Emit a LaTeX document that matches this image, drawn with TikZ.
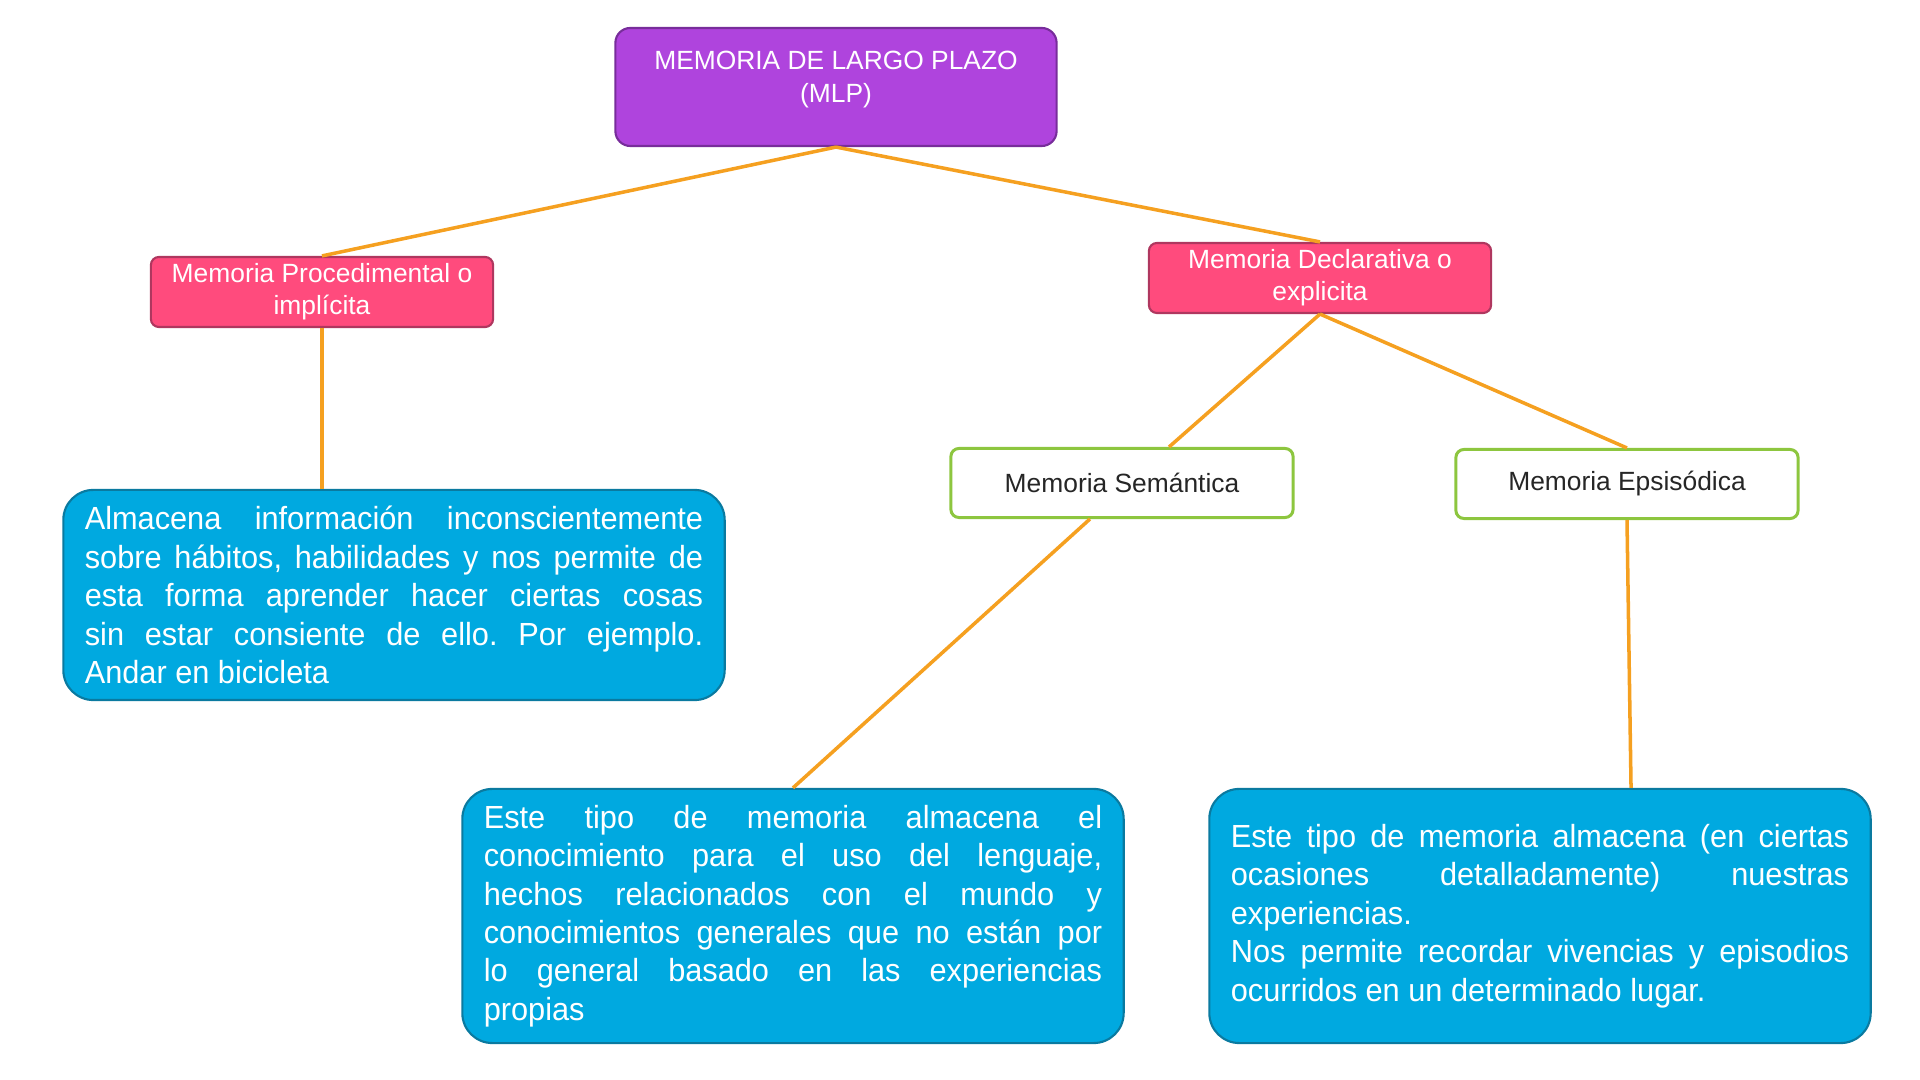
\documentclass[tikz,border=0pt]{standalone}
\usepackage{fontspec}
\setmainfont{Liberation Sans}
\newfontfamily\infofont[FakeStretch=0.96]{Liberation Sans}
\definecolor{mlpfill}{RGB}{175,68,221}
\definecolor{mlpedge}{RGB}{120,45,155}
\definecolor{redfill}{RGB}{255,75,125}
\definecolor{rededge}{RGB}{175,55,95}
\definecolor{greenedge}{RGB}{141,198,63}
\definecolor{bluefill}{RGB}{0,169,224}
\definecolor{blueedge}{RGB}{10,122,160}
\definecolor{linkcol}{RGB}{245,160,32}
\hyphenpenalty=10000
\exhyphenpenalty=10000
\tolerance=9999
\frenchspacing
\begin{document}
\begin{tikzpicture}[x=0.01cm,y=-0.01cm,font=\fontsize{7.5}{9.2}\selectfont]
    \tikzset{
      head/.style={draw=mlpedge, fill=mlpfill, line width=0.6pt, rounded corners=0.15cm, minimum width=4.41cm, minimum height=1.18cm, align=center, text=white},
      kind/.style={draw=rededge, fill=redfill, line width=0.6pt, rounded corners=0.08cm, minimum width=3.42cm, minimum height=0.70cm, inner sep=0pt, align=center, text=white},
      sub/.style={draw=greenedge, fill=white, line width=0.85pt, rounded corners=0.08cm, minimum width=3.42cm, minimum height=0.69cm, align=center, text=black!85},
      info/.style={draw=blueedge, fill=bluefill, line width=0.6pt, rounded corners=0.3cm, minimum width=6.61cm, text width=6.18cm, inner xsep=0.21cm, align=justify, text=white, font=\infofont\fontsize{9.1}{10.93}\selectfont},
      link/.style={draw=linkcol, line width=1pt}
    }
    \useasboundingbox (0,0) rectangle (1920,1080);
    \node[head] (mlp) at (836,87) {MEMORIA DE LARGO PLAZO\\(MLP)\\[-0.12cm]};
    \node[kind] (proc) at (322,292) {Memoria Procedimental o\\implícita};
    \node[kind] (decl) at (1320,278) {Memoria Declarativa o\\explicita};
    \node[sub] (sem) at (1122,483) {Memoria Semántica};
    \node[sub] (epi) at (1627,484) {Memoria Epsisódica};
    \node[info, minimum height=2.10cm] (txtproc) at (394,595) {Almacena información inconscientemente\linebreak sobre hábitos, habilidades y nos permite de\linebreak esta forma aprender hacer ciertas cosas\linebreak sin estar consiente de ello. Por ejemplo.\linebreak Andar en bicicleta};
    \node[info, minimum height=2.54cm] (txtsem) at (793,916) {Este tipo de memoria almacena el\linebreak conocimiento para el uso del lenguaje,\linebreak hechos relacionados con el mundo y\linebreak conocimientos generales que no están por\linebreak lo general basado en las experiencias\linebreak propias};
    \node[info, minimum height=2.54cm] (txtepi) at (1540,916) {Este tipo de memoria almacena (en ciertas\linebreak ocasiones detalladamente) nuestras\linebreak experiencias.\\Nos permite recordar vivencias y episodios\linebreak ocurridos en un determinado lugar.};
    \draw[link] (mlp.south) -- (proc.north);
    \draw[link] (mlp.south) -- (decl.north);
    \draw[link] (proc.south) -- (proc.south |- txtproc.north);
    \draw[link] (decl.south) -- ([xshift=0.47cm]sem.north);
    \draw[link] (decl.south) -- (epi.north);
    \draw[link] ([xshift=-0.32cm]sem.south) -- (txtsem.north);
    \draw[link] (epi.south) -- ([xshift=0.91cm]txtepi.north);
\end{tikzpicture}
\end{document}
